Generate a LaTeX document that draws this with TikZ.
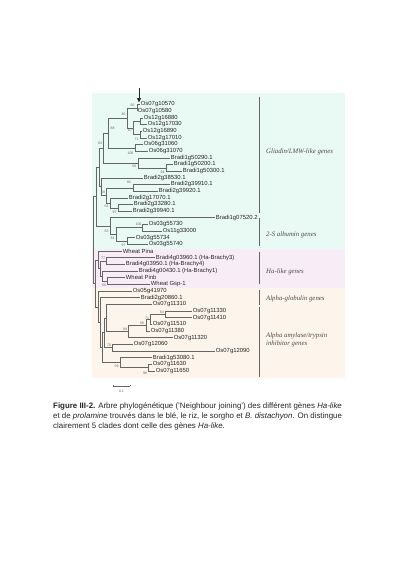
\documentclass[tikz,border=0pt]{standalone}
\usepackage{fontspec}
\setmainfont{Liberation Serif}
\setsansfont{Liberation Sans}
\usetikzlibrary{arrows.meta}
\definecolor{cyanbg}{RGB}{233,249,244}
\definecolor{pinkbg}{RGB}{248,237,247}
\definecolor{peachbg}{RGB}{253,244,235}
\begin{document}
\begin{tikzpicture}[x=1pt,y=-1pt,
 tip/.style={anchor=west,font=\sffamily\fontsize{5.9}{6}\selectfont,inner xsep=0.7pt,inner ysep=0pt,text=black!85},
 br/.style={draw=black!60,line width=0.45pt},
 bs/.style={font=\sffamily\fontsize{3.5}{4}\selectfont,text=black!60,inner sep=0pt},
 grp/.style={anchor=west,font=\rmfamily\itshape\fontsize{6.8}{7.4}\selectfont,text=black!70,align=left,inner sep=0pt},
 bar/.style={draw=black!60,line width=0.9pt}]
\useasboundingbox (0,0) rectangle (400,567);
\fill[white] (0,0) rectangle (400,567);
\fill[cyanbg] (92,93) rectangle (345,249);
\fill[pinkbg] (92,249) rectangle (345,288);
\fill[peachbg] (92,288) rectangle (345,378);

% tips
\node[tip] (t1) at (140,104.5) {Os07g10570};
\node[tip] (t2) at (137,111.2) {Os07g10580};
\node[tip] (t3) at (143,117.8) {Os12g16880};
\node[tip] (t4) at (147,124.5) {Os12g17030};
\node[tip] (t5) at (142,131.1) {Os12g16890};
\node[tip] (t6) at (147,137.8) {Os12g17010};
\node[tip] (t7) at (143,144.5) {Os06g31060};
\node[tip] (t8) at (148,151.1) {Os06g31070};
\node[tip] (t9) at (170,157.8) {Bradi1g50290.1};
\node[tip] (t10) at (173,164.4) {Bradi1g50200.1};
\node[tip] (t11) at (182,171.1) {Bradi1g50300.1};
\node[tip] (t12) at (143,177.8) {Bradi2g38530.1};
\node[tip] (t13) at (170,184.4) {Bradi2g39910.1};
\node[tip] (t14) at (158,191.1) {Bradi2g39920.1};
\node[tip] (t15) at (128,197.8) {Bradi2g17070.1};
\node[tip] (t16) at (133,204.4) {Bradi2g33280.1};
\node[tip] (t17) at (132,211.1) {Bradi2g39940.1};
\node[tip] (t18) at (215,217.7) {Bradi1g07520.2};
\node[tip] (t19) at (148,224.4) {Os03g55730};
\node[tip] (t20) at (162,231.0) {Os11g33000};
\node[tip] (t21) at (135,237.7) {Os03g55734};
\node[tip] (t22) at (148,244.4) {Os03g55740};
\node[tip] (t23) at (122,251.0) {Wheat Pina};
\node[tip] (t24) at (155,257.7) {Bradi4g03960.1 (Ha-Brachy3)};
\node[tip] (t25) at (125,264.4) {Bradi4g03950.1 (Ha-Brachy4)};
\node[tip] (t26) at (138,271.0) {Bradi4g00430.1 (Ha-Brachy1)};
\node[tip] (t27) at (125,277.7) {Wheat Pinb};
\node[tip] (t28) at (150,284.3) {Wheat Gsp-1};
\node[tip] (t29) at (132,291.0) {Os05g41970};
\node[tip] (t30) at (140,297.7) {Bradi2g20860.1};
\node[tip] (t31) at (152,304.3) {Os07g11310};
\node[tip] (t32) at (192,311.0) {Os07g11330};
\node[tip] (t33) at (192,317.6) {Os07g11410};
\node[tip] (t34) at (152,324.3) {Os07g11510};
\node[tip] (t35) at (150,331.0) {Os07g11380};
\node[tip] (t36) at (173,337.6) {Os07g11320};
\node[tip] (t37) at (133,344.3) {Os07g12060};
\node[tip] (t38) at (215,350.9) {Os07g12090};
\node[tip] (t39) at (152,357.6) {Bradi1g53080.1};
\node[tip] (t40) at (152,364.3) {Os07g11630};
\node[tip] (t41) at (155,370.9) {Os07g11650};

% internal nodes
\coordinate (Na) at (137,107.85);
\coordinate (Nb) at (140,121.15);
\coordinate (Nc) at (140,134.45);
\coordinate (Nd) at (133,127.8);
\coordinate (Ne) at (127,117.8);
\coordinate (Nf) at (135,147.8);
\coordinate (Ng) at (108,132.8);
\coordinate (Nh) at (166,167.75);
\coordinate (Ni) at (138,162.8);
\coordinate (Nr) at (103,147.8);
\coordinate (Nj) at (133,187.75);
\coordinate (Nk) at (118,207.75);
\coordinate (Nl) at (110,202.8);
\coordinate (Nm) at (106,195.3);
\coordinate (Nn) at (101,186.55);
\coordinate (Ns) at (99,167.2);
\coordinate (Nt) at (142,227.7);
\coordinate (Nu) at (127,241.05);
\coordinate (Nv) at (116,234.4);
\coordinate (Nw) at (110,226.05);
\coordinate (Nx) at (96,196.6);
\coordinate (Ny) at (106,261.05);
\coordinate (Nz) at (107,281.0);
\coordinate (Naa) at (102,276.0);
\coordinate (Nab) at (100,268.5);
\coordinate (Nac) at (98,259.75);
\coordinate (Nad) at (165,314.3);
\coordinate (Nae) at (150,319.3);
\coordinate (Naf) at (146,325.15);
\coordinate (Nag) at (128,331.4);
\coordinate (Nah) at (112,347.6);
\coordinate (Nai) at (148,367.6);
\coordinate (Naj) at (120,362.6);
\coordinate (Nak) at (106,317.85);
\coordinate (Nal) at (104,332.7);
\coordinate (Nam) at (102,347.65);
\coordinate (Nan) at (100,322.7);
\coordinate (Nao) at (98,306.85);
\coordinate (Nap) at (95,283.3);
\coordinate (Nroot) at (93,239.95);

% branches
\draw[br] (Na) |- (t1.west); \draw[br] (Na) |- (t2.west);
\draw[br] (Nb) |- (t3.west); \draw[br] (Nb) |- (t4.west);
\draw[br] (Nc) |- (t5.west); \draw[br] (Nc) |- (t6.west);
\draw[br] (Nd) |- (Nb); \draw[br] (Nd) |- (Nc);
\draw[br] (Ne) |- (Na); \draw[br] (Ne) |- (Nd);
\draw[br] (Nf) |- (t7.west); \draw[br] (Nf) |- (t8.west);
\draw[br] (Ng) |- (Ne); \draw[br] (Ng) |- (Nf);
\draw[br] (Nh) |- (t10.west); \draw[br] (Nh) |- (t11.west);
\draw[br] (Ni) |- (t9.west); \draw[br] (Ni) |- (Nh);
\draw[br] (Nr) |- (Ng); \draw[br] (Nr) |- (Ni);
\draw[br] (Nj) |- (t13.west); \draw[br] (Nj) |- (t14.west);
\draw[br] (Nk) |- (t16.west); \draw[br] (Nk) |- (t17.west);
\draw[br] (Nl) |- (t15.west); \draw[br] (Nl) |- (Nk);
\draw[br] (Nm) |- (Nj); \draw[br] (Nm) |- (Nl);
\draw[br] (Nn) |- (t12.west); \draw[br] (Nn) |- (Nm);
\draw[br] (Ns) |- (Nr); \draw[br] (Ns) |- (Nn);
\draw[br] (Nt) |- (t19.west); \draw[br] (Nt) |- (t20.west);
\draw[br] (Nu) |- (t21.west); \draw[br] (Nu) |- (t22.west);
\draw[br] (Nv) |- (Nt); \draw[br] (Nv) |- (Nu);
\draw[br] (Nw) |- (t18.west); \draw[br] (Nw) |- (Nv);
\draw[br] (Nx) |- (Ns); \draw[br] (Nx) |- (Nw);
\draw[br] (Ny) |- (t24.west); \draw[br] (Ny) |- (t25.west);
\draw[br] (Nz) |- (t27.west); \draw[br] (Nz) |- (t28.west);
\draw[br] (Naa) |- (t26.west); \draw[br] (Naa) |- (Nz);
\draw[br] (Nab) |- (Ny); \draw[br] (Nab) |- (Naa);
\draw[br] (Nac) |- (t23.west); \draw[br] (Nac) |- (Nab);
\draw[br] (Nad) |- (t32.west); \draw[br] (Nad) |- (t33.west);
\draw[br] (Nae) |- (Nad); \draw[br] (Nae) |- (t34.west);
\draw[br] (Naf) |- (Nae); \draw[br] (Naf) |- (t35.west);
\draw[br] (Nag) |- (Naf); \draw[br] (Nag) |- (t36.west);
\draw[br] (Nah) |- (t37.west); \draw[br] (Nah) |- (t38.west);
\draw[br] (Nai) |- (t40.west); \draw[br] (Nai) |- (t41.west);
\draw[br] (Naj) |- (t39.west); \draw[br] (Naj) |- (Nai);
\draw[br] (Nak) |- (t31.west); \draw[br] (Nak) |- (Nag);
\draw[br] (Nal) |- (Nak); \draw[br] (Nal) |- (Nah);
\draw[br] (Nam) |- (Nal); \draw[br] (Nam) |- (Naj);
\draw[br] (Nan) |- (t30.west); \draw[br] (Nan) |- (Nam);
\draw[br] (Nao) |- (t29.west); \draw[br] (Nao) |- (Nan);
\draw[br] (Nap) |- (Nac); \draw[br] (Nap) |- (Nao);
\draw[br] (Nroot) |- (Nx); \draw[br] (Nroot) |- (Nap);

% bootstrap values
\node[bs] (b1) at (132.5,105.5) {92};
\node[bs] (b2) at (123.5,114.5) {85};
\node[bs] (b3) at (130,130) {67};
\node[bs] (b4) at (136.5,139.5) {71};
\node[bs] (b5) at (112.5,128) {88};
\node[bs] (b6) at (130.5,153.5) {100};
\node[bs] (b7) at (100,143.5) {63};
\node[bs] (b8) at (134,166.5) {59};
\node[bs] (b9) at (162.5,172.5) {94};
\node[bs] (b10) at (129,182) {81};
\node[bs] (b11) at (103,192.5) {58};
\node[bs] (b12) at (106.5,206.5) {51};
\node[bs] (b13) at (114.5,212.5) {97};
\node[bs] (b14) at (138.5,224.5) {100};
\node[bs] (b15) at (106.5,231) {63};
\node[bs] (b16) at (112.5,238) {64};
\node[bs] (b17) at (123.5,245.5) {97};
\node[bs] (b18) at (103,258) {77};
\node[bs] (b19) at (104,285) {50};
\node[bs] (b20) at (162,312) {64};
\node[bs] (b21) at (147,318) {71};
\node[bs] (b22) at (142,323.5) {56};
\node[bs] (b23) at (125,329) {84};
\node[bs] (b24) at (109,345) {70};
\node[bs] (b25) at (116.5,366.5) {59};
\node[bs] (b26) at (145,373) {98};

% arrow
\coordinate (arT) at (139,88);
\coordinate (arB) at (139,102.5);
\draw[-{Triangle[width=3.8pt,length=4.4pt]},line width=1pt,black!85] (arT) -- (arB);

% group bars
\coordinate (g1a) at (259,97);  \coordinate (g1b) at (259,213);
\coordinate (g2a) at (259,218); \coordinate (g2b) at (259,246);
\coordinate (g3a) at (259,252); \coordinate (g3b) at (259,284);
\coordinate (g4a) at (259,290); \coordinate (g4b) at (259,304.5);
\coordinate (g5a) at (259,306.5); \coordinate (g5b) at (259,377);
\draw[bar] (g1a) -- (g1b);
\draw[bar] (g2a) -- (g2b);
\draw[bar] (g3a) -- (g3b);
\draw[bar] (g4a) -- (g4b);
\draw[bar] (g5a) -- (g5b);
\node[grp] (l1) at (266,152) {Gliadin/LMW-like genes};
\node[grp] (l2) at (266,235) {2-S albumin genes};
\node[grp] (l3) at (266,272) {Ha-like genes};
\node[grp] (l4) at (266,299) {Alpha-globulin genes};
\node[grp] (l5) at (266,340) {Alpha amylase/trypsin\\inhibitor genes};

% scale bar
\coordinate (sbL) at (113,386);
\coordinate (sbR) at (130,386);
\draw[br] (sbL) -- (sbR);
\draw[br] (sbL) -- ++(0,-1.5);
\draw[br] (sbR) -- ++(0,-1.5);
\node[bs] (sbt) at (121.5,391) {0.1};

% caption
\node[anchor=north west,align=left,inner sep=0pt,text=black!85,
  font=\sffamily\fontsize{7.9}{10}\selectfont] (cap) at (53,402)
  {\textbf{Figure III-2.} Arbre phylogénétique ('Neighbour joining') des différent gènes \textit{Ha-like}\\
   et de \textit{prolamine} trouvés dans le blé, le riz, le sorgho et \textit{B. distachyon}. On distingue\\
   clairement 5 clades dont celle des gènes \textit{Ha-like}.};
\end{tikzpicture}
\end{document}
